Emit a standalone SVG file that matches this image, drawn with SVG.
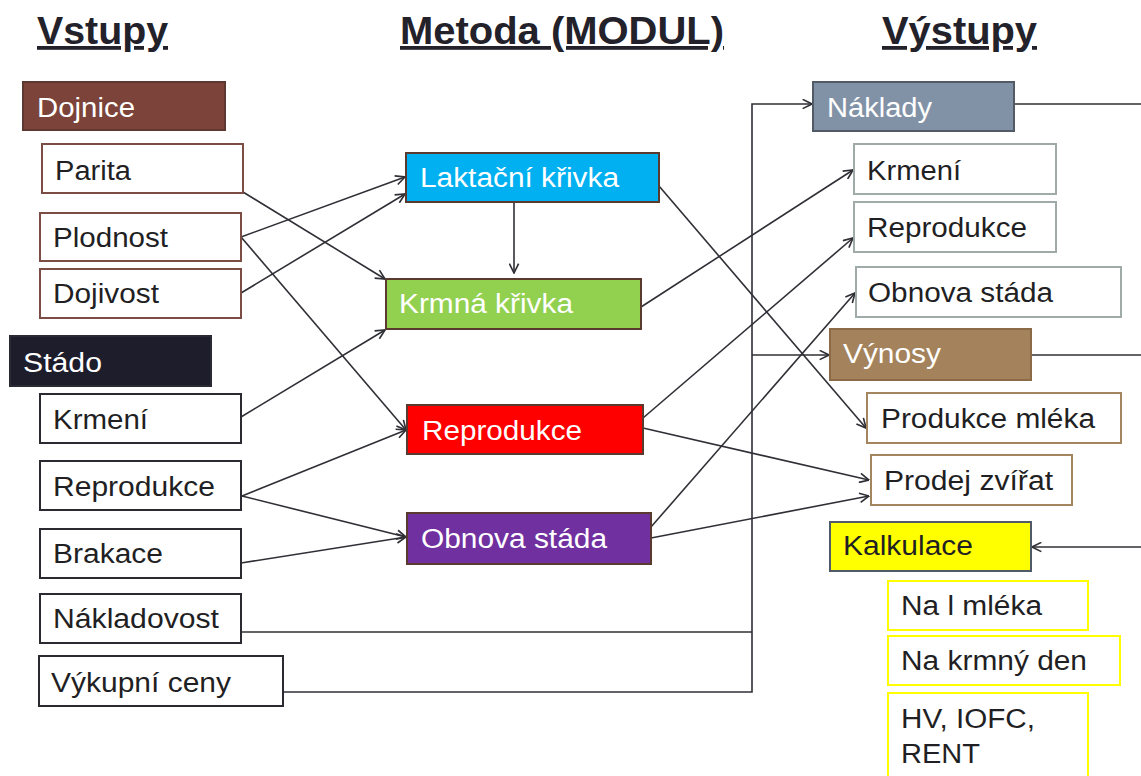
<svg xmlns="http://www.w3.org/2000/svg" width="1141" height="776" viewBox="0 0 1141 776">
<style>
  .hdr { font-family: "Liberation Sans", Arial, sans-serif; font-weight: bold; font-size: 38px; fill: #23222b; text-decoration: underline; }
  .t { font-family: "Liberation Sans", Arial, sans-serif; font-size: 27px; fill: #1f1f24; }
  .w { fill: #ffffff; }
  .box { stroke-width: 2; }
  .cn { fill: none; stroke: #2f2f36; stroke-width: 1.6; }
</style>
<defs>
  <marker id="arr" viewBox="0 0 10 10" refX="9.5" refY="5" markerWidth="11" markerHeight="11" markerUnits="userSpaceOnUse" orient="auto">
    <path d="M1,0.8 L9.5,5 L1,9.2" fill="none" stroke="#2f2f36" stroke-width="1.5"/>
  </marker>
</defs>
<rect width="1141" height="776" fill="#ffffff"/>

<g id="headers">
  <text class="hdr" x="37" y="44" textLength="131" lengthAdjust="spacingAndGlyphs">Vstupy</text>
  <text class="hdr" x="400" y="44" textLength="324" lengthAdjust="spacingAndGlyphs">Metoda (MODUL)</text>
  <text class="hdr" x="882" y="44" textLength="155" lengthAdjust="spacingAndGlyphs">Výstupy</text>
</g>

<g id="connectors">
  <line class="cn" x1="243" y1="192" x2="385" y2="279" marker-end="url(#arr)"/>
  <line class="cn" x1="241" y1="237" x2="405" y2="177" marker-end="url(#arr)"/>
  <line class="cn" x1="241" y1="293" x2="405" y2="194" marker-end="url(#arr)"/>
  <line class="cn" x1="241" y1="237" x2="406" y2="430" marker-end="url(#arr)"/>
  <line class="cn" x1="241" y1="417" x2="385" y2="330" marker-end="url(#arr)"/>
  <line class="cn" x1="242" y1="496" x2="406" y2="430" marker-end="url(#arr)"/>
  <line class="cn" x1="242" y1="496" x2="406" y2="537" marker-end="url(#arr)"/>
  <line class="cn" x1="241" y1="563" x2="406" y2="537" marker-end="url(#arr)"/>
  <line class="cn" x1="514" y1="202" x2="514" y2="273" marker-end="url(#arr)"/>
  <line class="cn" x1="659" y1="186" x2="866" y2="428" marker-end="url(#arr)"/>
  <line class="cn" x1="641" y1="307" x2="853" y2="170" marker-end="url(#arr)"/>
  <line class="cn" x1="643" y1="418" x2="853" y2="238" marker-end="url(#arr)"/>
  <line class="cn" x1="643" y1="428" x2="869" y2="480" marker-end="url(#arr)"/>
  <line class="cn" x1="651" y1="527" x2="855" y2="293" marker-end="url(#arr)"/>
  <line class="cn" x1="651" y1="538" x2="869" y2="496" marker-end="url(#arr)"/>
  <polyline class="cn" points="241,632 752,632"/>
  <polyline class="cn" points="283,692 752,692 752,104 812,104" marker-end="url(#arr)"/>
  <line class="cn" x1="752" y1="355" x2="829" y2="355" marker-end="url(#arr)"/>
  <line class="cn" x1="1014" y1="104" x2="1141" y2="104"/>
  <line class="cn" x1="1031" y1="355" x2="1141" y2="355"/>
  <line class="cn" x1="1141" y1="547" x2="1032" y2="547" marker-end="url(#arr)"/>
</g>

<!-- Inputs -->
<g id="dojnice">
  <rect class="box" x="23" y="82" width="202" height="48" fill="#7b4339" stroke="#5e3830"/>
  <text class="t w" x="37" y="117" textLength="98" lengthAdjust="spacingAndGlyphs">Dojnice</text>
</g>
<g id="parita">
  <rect class="box" x="42" y="144" width="201" height="49" fill="#ffffff" stroke="#7b4d44"/>
  <text class="t" x="55" y="180" textLength="76" lengthAdjust="spacingAndGlyphs">Parita</text>
</g>
<g id="plodnost">
  <rect class="box" x="40" y="213" width="201" height="48" fill="#ffffff" stroke="#7b4d44"/>
  <text class="t" x="53" y="247" textLength="115" lengthAdjust="spacingAndGlyphs">Plodnost</text>
</g>
<g id="dojivost">
  <rect class="box" x="40" y="269" width="201" height="49" fill="#ffffff" stroke="#7b4d44"/>
  <text class="t" x="53" y="303" textLength="106" lengthAdjust="spacingAndGlyphs">Dojivost</text>
</g>
<g id="stado">
  <rect class="box" x="10" y="336" width="201" height="50" fill="#1e1d2b" stroke="#2a2a35"/>
  <text class="t w" x="23" y="372" textLength="79" lengthAdjust="spacingAndGlyphs">Stádo</text>
</g>
<g id="in-krmeni">
  <rect class="box" x="40" y="394" width="201" height="49" fill="#ffffff" stroke="#2a2a30"/>
  <text class="t" x="53" y="429" textLength="95" lengthAdjust="spacingAndGlyphs">Krmení</text>
</g>
<g id="in-reprodukce">
  <rect class="box" x="40" y="461" width="201" height="49" fill="#ffffff" stroke="#2a2a30"/>
  <text class="t" x="53" y="496" textLength="162" lengthAdjust="spacingAndGlyphs">Reprodukce</text>
</g>
<g id="brakace">
  <rect class="box" x="40" y="529" width="201" height="49" fill="#ffffff" stroke="#2a2a30"/>
  <text class="t" x="53" y="563" textLength="110" lengthAdjust="spacingAndGlyphs">Brakace</text>
</g>
<g id="nakladovost">
  <rect class="box" x="40" y="594" width="201" height="49" fill="#ffffff" stroke="#2a2a30"/>
  <text class="t" x="53" y="628" textLength="166" lengthAdjust="spacingAndGlyphs">Nákladovost</text>
</g>
<g id="vykupni-ceny">
  <rect class="box" x="39" y="656" width="244" height="50" fill="#ffffff" stroke="#2a2a30"/>
  <text class="t" x="51" y="692" textLength="180" lengthAdjust="spacingAndGlyphs">Výkupní ceny</text>
</g>

<!-- Methods -->
<g id="laktacni-krivka">
  <rect class="box" x="406" y="153" width="253" height="49" fill="#00b0f0" stroke="#5a3a2e"/>
  <text class="t w" x="420" y="187" textLength="199" lengthAdjust="spacingAndGlyphs">Laktační křivka</text>
</g>
<g id="krmna-krivka">
  <rect class="box" x="386" y="279" width="255" height="50" fill="#92d050" stroke="#5a3a2e"/>
  <text class="t w" x="399" y="313" textLength="174" lengthAdjust="spacingAndGlyphs">Krmná křivka</text>
</g>
<g id="m-reprodukce">
  <rect class="box" x="407" y="405" width="236" height="49" fill="#ff0000" stroke="#5a3a2e"/>
  <text class="t w" x="422" y="440" textLength="160" lengthAdjust="spacingAndGlyphs">Reprodukce</text>
</g>
<g id="m-obnova-stada">
  <rect class="box" x="407" y="513" width="244" height="51" fill="#7030a0" stroke="#5a3a2e"/>
  <text class="t w" x="421" y="548" textLength="186" lengthAdjust="spacingAndGlyphs">Obnova stáda</text>
</g>

<!-- Outputs -->
<g id="naklady">
  <rect class="box" x="813" y="82" width="201" height="49" fill="#8292a6" stroke="#515b67"/>
  <text class="t w" x="827" y="117" textLength="105" lengthAdjust="spacingAndGlyphs">Náklady</text>
</g>
<g id="out-krmeni">
  <rect class="box" x="854" y="144" width="202" height="50" fill="#ffffff" stroke="#a0aaa8"/>
  <text class="t" x="867" y="180" textLength="94" lengthAdjust="spacingAndGlyphs">Krmení</text>
</g>
<g id="out-reprodukce">
  <rect class="box" x="854" y="202" width="202" height="50" fill="#ffffff" stroke="#a0aaa8"/>
  <text class="t" x="867" y="237" textLength="160" lengthAdjust="spacingAndGlyphs">Reprodukce</text>
</g>
<g id="out-obnova-stada">
  <rect class="box" x="856" y="267" width="265" height="50" fill="#ffffff" stroke="#a0aaa8"/>
  <text class="t" x="868" y="302" textLength="185" lengthAdjust="spacingAndGlyphs">Obnova stáda</text>
</g>
<g id="vynosy">
  <rect class="box" x="830" y="329" width="201" height="51" fill="#a4825b" stroke="#8b6b47"/>
  <text class="t w" x="843" y="363" textLength="98" lengthAdjust="spacingAndGlyphs">Výnosy</text>
</g>
<g id="produkce-mleka">
  <rect class="box" x="867" y="393" width="254" height="50" fill="#ffffff" stroke="#a5855f"/>
  <text class="t" x="881" y="428" textLength="214" lengthAdjust="spacingAndGlyphs">Produkce mléka</text>
</g>
<g id="prodej-zvirat">
  <rect class="box" x="871" y="455" width="201" height="50" fill="#ffffff" stroke="#a5855f"/>
  <text class="t" x="884" y="490" textLength="169" lengthAdjust="spacingAndGlyphs">Prodej zvířat</text>
</g>
<g id="kalkulace">
  <rect class="box" x="830" y="522" width="201" height="49" fill="#ffff00" stroke="#515b67"/>
  <text class="t" x="843" y="555" textLength="130" lengthAdjust="spacingAndGlyphs">Kalkulace</text>
</g>
<g id="na-l-mleka">
  <rect class="box" x="888" y="581" width="200" height="49" fill="#ffffff" stroke="#ffff00"/>
  <text class="t" x="901" y="615" textLength="141" lengthAdjust="spacingAndGlyphs">Na l mléka</text>
</g>
<g id="na-krmny-den">
  <rect class="box" x="888" y="636" width="232" height="49" fill="#ffffff" stroke="#ffff00"/>
  <text class="t" x="901" y="670" textLength="186" lengthAdjust="spacingAndGlyphs">Na krmný den</text>
</g>
<g id="hv-iofc-rent">
  <rect class="box" x="888" y="693" width="200" height="100" fill="#ffffff" stroke="#ffff00"/>
  <text class="t" x="901" y="728" textLength="134" lengthAdjust="spacingAndGlyphs">HV, IOFC,</text>
  <text class="t" x="901" y="763" textLength="79" lengthAdjust="spacingAndGlyphs">RENT</text>
</g>
</svg>
